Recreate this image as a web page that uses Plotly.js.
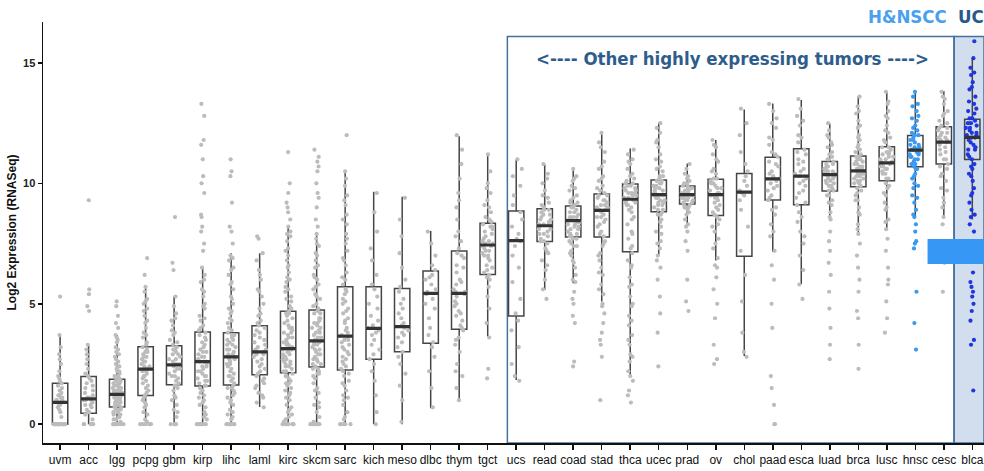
<!DOCTYPE html>
<html><head><meta charset="utf-8">
<script src="https://cdn.plot.ly/plotly-3.0.1.min.js"></script>
<style>html,body{margin:0;padding:0;background:#fff}#chart{width:984px;height:471px}</style>
</head><body><div id="chart"></div>
<script>
const categories = ["uvm","acc","lgg","pcpg","gbm","kirp","lihc","laml","kirc","skcm","sarc","kich","meso","dlbc","thym","tgct","ucs","read","coad","stad","thca","ucec","prad","ov","chol","paad","esca","luad","brca","lusc","hnsc","cesc","blca"];
const q1 = [0,0.46,0.71,1.19,1.64,1.59,1.63,2.05,2.14,2.38,2.25,2.70,3.01,3.36,3.94,6.22,4.49,7.59,7.77,7.77,7.16,8.82,9.14,8.67,6.97,9.31,9.11,9.68,9.86,10.11,10.69,10.80,10.99];
const medians = [0.91,1.05,1.24,2.29,2.46,2.60,2.80,3.00,3.14,3.46,3.66,3.98,4.05,5.43,5.43,7.44,7.62,8.24,8.45,8.88,9.34,9.53,9.53,9.53,9.64,10.19,10.30,10.36,10.52,10.85,11.38,11.71,11.91];
const q3 = [1.70,1.98,1.87,3.22,3.26,3.83,3.80,4.09,4.69,4.74,5.71,5.71,5.64,6.36,7.19,8.34,8.85,8.95,9.06,9.56,9.97,10.14,9.89,10.17,10.41,11.08,11.44,10.91,11.14,11.52,11.99,12.35,12.66];
const lowerFence = [0,0,0,0,0,0,0,0.71,0,0,0,0,0,0.66,1.0,3.64,1.84,5.57,5.85,5.1,2.0,7.0,8.2,6.8,2.83,7.16,5.82,8.48,7.93,8.13,8.61,8.61,8.5];
const upperFence = [3.7,3.29,3.7,5.7,5.3,6.54,7.1,7.1,8.2,7.9,10.48,9.65,9.44,8.02,11.96,11.17,10.97,10.79,10.59,12.11,11.45,12.53,10.83,11.8,13.07,13.32,13.46,12.49,13.62,13.8,13.76,13.84,15.2];

const pts_uvm = [0,0,0,0,0,0,0,0,0,0,0,0,0,0,0,0,0,0,0,0,0.3,0.5,0.6,0.7,0.8,0.8,0.9,0.9,0.9,1.0,1.0,1.0,1.1,1.1,1.2,1.2,1.3,1.4,1.5,1.6,1.7,1.8,1.9,2.0,2.2,2.5,2.7,2.9,3.2,3.7,5.3];
const pts_acc = [0,0,0,0,0,0.2,0.4,0.5,0.5,0.6,0.7,0.8,0.8,0.9,1.0,1.0,1.0,1.1,1.1,1.2,1.3,1.4,1.5,1.6,1.7,1.8,1.9,2.0,2.1,2.3,2.5,2.7,2.9,3.1,3.3,4.7,4.9,5.4,5.6,9.3];
const pts_lgg = [0,0,0,0,0,0,0.1,0.2,0.3,0.3,0.4,0.5,0.5,0.6,0.6,0.7,0.7,0.8,0.8,0.9,0.9,1.0,1.0,1.1,1.1,1.1,1.2,1.2,1.2,1.3,1.3,1.3,1.4,1.4,1.5,1.5,1.6,1.6,1.7,1.7,1.8,1.8,1.9,2.0,2.1,2.2,2.3,2.4,2.5,2.6,2.8,2.9,3.0,3.2,3.4,3.6,3.7,4.0,4.2,4.5,4.9,5.1,
  0,0,0.2,0.4,0.6,0.7,0.8,0.9,1.0,1.0,1.1,1.2,1.2,1.3,1.3,1.4,1.4,1.5,1.6,1.7,1.8,1.9,2.0,2.2,2.4,2.7,3.1,3.5];
const pts_pcpg = [0,0,0,0,0.2,0.4,0.5,0.7,0.9,1.0,1.1,1.2,1.3,1.5,1.6,1.8,1.9,2.0,2.1,2.2,2.3,2.3,2.4,2.5,2.6,2.7,2.8,2.9,3.0,3.1,3.2,3.4,3.6,3.8,4.0,4.3,4.5,4.8,5.0,5.2,5.5,5.7,6.2,6.9,
  0,0.1,0.8,1.4,1.7,2.0,2.2,2.4,2.6,2.8,3.0,3.3,3.7,4.2,4.7,5.1];
const pts_gbm = [0,0,0,0.3,0.6,0.8,1.0,1.2,1.4,1.5,1.6,1.7,1.9,2.0,2.1,2.2,2.3,2.4,2.5,2.5,2.6,2.7,2.8,2.9,3.0,3.1,3.2,3.3,3.5,3.7,3.9,4.1,4.3,4.6,4.9,5.3,6.4,6.7,8.6,
  0,0.5,1.1,1.6,1.8,2.0,2.3,2.5,2.7,2.9,3.1,3.4,3.8,4.4];
const pts_kirp = [0,0,0,0,0,0.2,0.4,0.5,0.7,0.8,1.0,1.1,1.2,1.4,1.5,1.6,1.7,1.8,1.9,2.0,2.1,2.2,2.3,2.4,2.5,2.6,2.6,2.7,2.8,2.9,3.0,3.1,3.3,3.4,3.6,3.8,3.9,4.1,4.3,4.5,4.8,5.0,5.3,5.6,5.9,6.2,6.5,7.2,7.5,8.0,8.2,8.6,8.7,9.6,10.0,10.3,11.0,11.6,11.8,12.8,13.3,
  0,0,0.3,0.9,1.3,1.6,1.8,2.0,2.2,2.4,2.6,2.8,3.0,3.2,3.5,3.7,4.0,4.4,4.9,5.5,6.0];
const pts_lihc = [0,0,0,0,0,0.2,0.3,0.5,0.6,0.8,1.0,1.1,1.3,1.4,1.5,1.6,1.7,1.9,2.0,2.1,2.3,2.4,2.5,2.6,2.7,2.8,2.8,2.9,3.0,3.1,3.2,3.3,3.4,3.5,3.6,3.7,3.8,4.0,4.2,4.4,4.6,4.8,5.0,5.3,5.6,5.9,6.2,6.5,6.8,7.0,7.5,8.0,8.2,9.2,10.3,10.5,11.0,
  0,0,0.4,0.9,1.2,1.5,1.8,2.0,2.2,2.5,2.7,2.9,3.1,3.3,3.5,3.7,3.9,4.3,4.7,5.2,5.8,6.4,6.9];
const pts_laml = [0.7,0.9,1.1,1.3,1.5,1.6,1.8,1.9,2.0,2.1,2.3,2.4,2.6,2.7,2.8,2.9,3.0,3.0,3.1,3.2,3.3,3.5,3.6,3.8,3.9,4.0,4.1,4.3,4.5,4.8,5.0,5.3,5.6,6.0,6.4,6.8,7.1,7.7,7.8,
  1.2,1.7,2.2,2.5,2.9,3.1,3.4,3.7,4.2,4.6,5.5,6.2];
const pts_kirc = [0,0,0,0,0,0.2,0.3,0.4,0.5,0.7,0.8,1.0,1.1,1.3,1.4,1.5,1.6,1.7,1.8,1.9,2.0,2.1,2.2,2.3,2.4,2.5,2.6,2.7,2.8,2.9,3.0,3.1,3.1,3.2,3.3,3.4,3.5,3.6,3.7,3.8,3.9,4.0,4.1,4.2,4.4,4.5,4.6,4.7,4.9,5.1,5.3,5.5,5.7,5.9,6.1,6.3,6.5,6.8,7.0,7.3,7.6,7.9,8.2,8.5,8.8,9.0,9.2,9.6,10.0,11.3,
  0,0,0.1,0.6,1.2,1.7,2.0,2.2,2.4,2.5,2.6,2.7,2.8,2.9,3.0,3.2,3.3,3.4,3.6,3.8,4.0,4.3,4.6,4.8,5.2,5.6,6.0,6.6,7.2,7.8,8.0];
const pts_skcm = [0,0,0,0,0.3,0.5,0.7,0.9,1.1,1.3,1.5,1.7,1.9,2.0,2.1,2.2,2.3,2.4,2.5,2.6,2.7,2.8,2.9,3.0,3.1,3.2,3.3,3.4,3.5,3.5,3.6,3.7,3.8,3.9,4.0,4.1,4.2,4.3,4.4,4.6,4.7,4.8,5.0,5.2,5.4,5.6,5.8,6.0,6.2,6.5,6.8,7.1,7.4,7.7,7.9,8.2,8.5,9.0,9.4,9.6,10.0,10.5,10.7,10.9,11.1,11.4,
  0,0,0.1,0.8,1.4,2.1,2.3,2.5,2.7,2.9,3.1,3.3,3.4,3.6,3.8,4.0,4.2,4.4,4.6,4.9,5.3,5.7,6.1,6.6,7.0,7.5];
const pts_sarc = [0,0,0,0,0.3,0.5,0.8,1.0,1.2,1.4,1.6,1.8,2.0,2.1,2.3,2.5,2.6,2.8,3.0,3.1,3.3,3.4,3.5,3.6,3.7,3.8,4.0,4.2,4.4,4.6,4.8,5.0,5.2,5.4,5.6,5.8,6.0,6.3,6.6,6.9,7.2,7.5,7.9,8.3,8.7,9.1,9.5,9.9,10.2,10.5,12.0,
  0,0.2,1.1,1.7,2.2,2.4,2.7,2.9,3.2,3.5,3.9,4.3,4.7,5.1,5.5,6.1,6.8,7.7,8.5,9.3];
const pts_kich = [0,0.5,1.2,1.8,2.2,2.5,2.7,2.9,3.1,3.3,3.5,3.7,3.8,3.9,4.0,4.1,4.3,4.5,4.8,5.0,5.3,5.6,5.8,6.2,6.8,7.3,8.0,8.8,9.6];
const pts_meso = [0.1,1.0,1.6,2.1,2.5,2.8,3.0,3.2,3.4,3.6,3.7,3.8,3.9,4.0,4.1,4.2,4.4,4.6,4.8,5.0,5.2,5.5,5.7,6.0,6.5,7.1,7.8,8.5,9.4];
const pts_dlbc = [0.7,1.5,2.2,2.8,3.2,3.4,3.7,4.0,4.4,4.8,5.0,5.2,5.4,5.5,5.6,5.8,6.0,6.1,6.2,6.4,6.6,7.0,7.5,8.0];
const pts_thym = [1.0,1.5,2.0,2.5,3.0,3.3,3.6,3.9,4.1,4.3,4.5,4.7,4.9,5.1,5.3,5.4,5.5,5.6,5.8,6.0,6.3,6.6,6.9,7.1,7.3,7.6,8.0,8.5,9.0,9.6,10.2,10.8,11.4,12.0,
  2.2,3.5,4.0,4.6,5.0,5.5,5.9,6.5,7.0,7.8,9.3];
const pts_tgct = [1.9,2.3,3.6,4.2,4.8,5.3,5.7,6.0,6.2,6.4,6.6,6.8,7.0,7.1,7.2,7.3,7.4,7.5,7.6,7.7,7.8,8.0,8.1,8.2,8.3,8.4,8.6,8.8,9.0,9.3,9.6,10.0,10.5,11.2,
  6.1,6.3,6.5,6.9,7.0,7.2,7.4,7.5,7.6,7.9,8.2,8.5,9.1,9.8];
const pts_ucs = [1.8,2.0,2.5,3.2,3.9,4.3,4.6,5.2,5.9,6.5,7.0,7.4,7.6,7.7,7.9,8.2,8.5,8.8,9.1,9.5,9.9,10.3,10.6,11.0];
const pts_read = [5.2,5.6,6.0,6.4,6.8,7.1,7.3,7.5,7.6,7.7,7.8,7.9,8.0,8.1,8.2,8.3,8.3,8.4,8.5,8.6,8.7,8.8,8.9,9.0,9.2,9.4,9.7,10.0,10.4,10.8,
  6.6,7.2,7.6,7.9,8.1,8.3,8.5,8.7,8.9,9.1,9.5,10.2];
const pts_coad = [2.4,2.6,4.2,4.5,5.0,5.5,5.9,6.2,6.5,6.8,7.0,7.2,7.4,7.5,7.6,7.7,7.8,7.9,8.0,8.1,8.2,8.3,8.4,8.4,8.5,8.6,8.7,8.8,8.9,9.0,9.1,9.2,9.3,9.5,9.7,9.9,10.1,10.3,10.6,
  5.2,6.0,6.7,7.1,7.4,7.7,7.8,7.9,8.1,8.2,8.3,8.5,8.6,8.6,8.8,9.0,9.2,9.4,9.8,10.2];
const pts_stad = [1.0,2.8,3.3,3.8,4.2,4.6,5.0,5.4,5.8,6.2,6.5,6.8,7.1,7.4,7.6,7.8,8.0,8.2,8.4,8.6,8.7,8.8,8.9,9.0,9.1,9.2,9.3,9.4,9.5,9.6,9.7,9.9,10.1,10.3,10.6,10.9,11.3,11.7,12.1,
  3.5,4.9,5.6,6.3,7.0,7.5,7.9,8.3,8.5,8.6,8.9,9.0,9.1,9.3,9.5,9.8,10.2,10.7,11.5];
const pts_thca = [0.9,1.4,1.8,2.2,2.6,2.9,3.3,3.7,4.1,4.5,4.9,5.3,5.7,6.1,6.5,6.8,7.1,7.4,7.7,8.0,8.3,8.6,8.8,9.0,9.1,9.2,9.3,9.4,9.5,9.6,9.7,9.8,9.9,10.0,10.1,10.2,10.4,10.6,10.8,11.0,11.2,11.4,
  1.2,2.0,2.8,3.5,4.3,5.0,5.8,6.6,7.3,7.9,8.5,8.9,9.1,9.2,9.3,9.4,9.5,9.6,9.6,9.7,9.8,9.9,10.0,10.3,10.9];
const pts_ucec = [2.4,3.8,4.6,5.3,6.0,6.5,7.0,7.3,7.6,7.9,8.2,8.5,8.7,8.8,8.9,9.0,9.1,9.2,9.3,9.4,9.5,9.5,9.6,9.7,9.8,9.9,10.0,10.1,10.2,10.3,10.5,10.7,10.9,11.2,11.5,11.8,12.1,12.5,
  6.8,7.5,8.0,8.4,8.7,8.9,9.1,9.2,9.3,9.4,9.5,9.6,9.7,9.8,9.9,10.0,10.1,10.3,10.6,11.0,11.7,12.3];
const pts_prad = [4.7,5.1,6.0,7.2,7.6,8.0,8.2,8.5,8.7,8.9,9.0,9.1,9.2,9.3,9.4,9.5,9.5,9.6,9.7,9.8,9.9,10.0,10.1,10.2,10.4,10.6,10.8,
  8.3,8.8,9.0,9.1,9.2,9.3,9.3,9.4,9.4,9.5,9.5,9.6,9.6,9.7,9.8,9.9,10.0,10.3];
const pts_ov = [2.5,2.7,3.3,4.4,5.0,5.6,6.1,6.5,6.9,7.3,7.7,8.0,8.3,8.5,8.7,8.9,9.1,9.3,9.4,9.5,9.6,9.7,9.8,9.9,10.0,10.1,10.2,10.4,10.6,10.9,11.2,11.5,11.8,
  6.6,7.5,8.2,8.6,8.8,9.0,9.2,9.4,9.5,9.6,9.8,10.0,10.2,10.5,11.0,11.6];
const pts_chol = [2.8,3.0,3.8,5.1,6.2,7.2,8.2,8.9,9.3,9.5,9.6,9.7,9.9,10.1,10.3,10.5,10.8,11.3,12.0,12.5,13.1];
const pts_paad = [0,0,0.8,1.5,2.0,4.0,5.0,6.0,6.6,7.2,7.8,8.3,8.7,9.0,9.3,9.5,9.7,9.9,10.1,10.2,10.3,10.5,10.7,10.9,11.1,11.3,11.6,11.9,12.3,12.7,13.0,13.3,
  8.0,8.9,9.4,9.8,10.0,10.2,10.4,10.8,11.2,11.8,12.5];
const pts_esca = [5.2,5.8,6.4,7.0,7.5,8.0,8.4,8.8,9.1,9.4,9.7,9.9,10.1,10.3,10.4,10.6,10.8,11.0,11.2,11.4,11.7,12.0,12.4,12.8,13.1,13.5,
  7.8,8.6,9.2,9.6,10.0,10.2,10.5,10.9,11.3,11.9,12.6];
const pts_luad = [2.7,3.3,4.0,4.8,5.5,6.2,6.7,7.2,7.6,8.0,8.5,8.8,9.1,9.3,9.5,9.7,9.8,9.9,10.0,10.1,10.2,10.3,10.4,10.4,10.5,10.6,10.7,10.8,10.9,11.0,11.1,11.3,11.5,11.7,11.9,12.2,12.5,
  8.6,9.2,9.5,9.7,9.9,10.0,10.1,10.2,10.3,10.3,10.4,10.5,10.5,10.6,10.7,10.8,11.0,11.2,11.6,12.0];
const pts_brca = [2.3,3.3,4.4,4.7,5.5,6.0,6.5,7.0,7.5,7.9,8.3,8.7,9.0,9.3,9.5,9.7,9.9,10.0,10.1,10.2,10.3,10.4,10.5,10.5,10.6,10.7,10.8,10.9,11.0,11.1,11.2,11.4,11.6,11.8,12.0,12.3,12.6,12.9,13.2,13.6,
  8.1,8.8,9.3,9.6,9.8,10.0,10.1,10.2,10.3,10.4,10.4,10.5,10.5,10.6,10.6,10.7,10.8,10.9,11.0,11.1,11.3,11.5,11.9,12.4,13.0];
const pts_lusc = [3.8,4.4,5.1,5.8,6.0,6.5,7.2,7.7,8.1,8.5,8.9,9.2,9.5,9.8,10.0,10.2,10.4,10.5,10.6,10.7,10.8,10.9,11.0,11.1,11.2,11.3,11.4,11.5,11.7,11.9,12.1,12.4,12.7,13.0,13.4,13.8,
  8.4,9.0,9.6,9.9,10.2,10.4,10.6,10.7,10.8,10.9,11.0,11.1,11.2,11.3,11.5,11.8,12.2,12.8,13.3];
const pts_hnsc = [3.1,4.2,5.5,7.3,7.5,7.6,8.0,8.3,8.6,8.9,9.2,9.5,9.8,10.0,10.2,10.4,10.6,10.7,10.8,10.9,11.0,11.1,11.2,11.3,11.4,11.4,11.5,11.6,11.7,11.8,11.9,12.0,12.1,12.2,12.4,12.6,12.8,13.0,13.3,13.6,13.8,
  8.7,9.4,9.9,10.3,10.6,10.8,11.0,11.1,11.2,11.3,11.4,11.5,11.6,11.8,12.0,12.3,12.7,13.2];
const pts_cesc = [5.5,6.7,8.3,8.6,9.0,9.4,9.8,10.1,10.4,10.6,10.8,11.0,11.2,11.4,11.6,11.7,11.8,11.9,12.0,12.1,12.2,12.3,12.4,12.6,12.8,13.0,13.3,13.6,13.8,
  9.2,9.7,10.3,10.7,11.0,11.3,11.5,11.7,11.8,11.9,12.1,12.3,12.5,12.9,13.5];
const pts_blca = [1.4,3.3,3.5,4.3,4.7,5.0,5.3,5.5,5.7,5.9,6.3,7.6,8.0,8.3,8.6,8.9,9.2,9.5,9.8,10.1,10.4,10.6,10.8,11.0,11.2,11.4,11.6,11.8,11.9,12.0,12.1,12.2,12.3,12.4,12.5,12.6,12.7,12.9,13.1,13.3,13.6,13.9,14.2,14.5,14.8,15.2,15.9,
  8.7,9.6,10.3,10.7,11.1,11.4,11.5,11.7,11.9,12.0,12.1,12.3,12.5,12.7,13.0,13.4,14.0,14.6];

const pointSets = [pts_uvm,pts_acc,pts_lgg,pts_pcpg,pts_gbm,pts_kirp,pts_lihc,pts_laml,pts_kirc,pts_skcm,pts_sarc,pts_kich,pts_meso,pts_dlbc,pts_thym,pts_tgct,pts_ucs,pts_read,pts_coad,pts_stad,pts_thca,pts_ucec,pts_prad,pts_ov,pts_chol,pts_paad,pts_esca,pts_luad,pts_brca,pts_lusc,pts_hnsc,pts_cesc,pts_blca];
const pointColors = {hnsc: "#3a99f0", blca: "#1f35e0"};
const grayColor = "#bcbcbc";

function pointTrace(cats, color) {
  const xs = [], ys = [];
  cats.forEach(c => {
    const vals = pointSets[categories.indexOf(c)];
    vals.forEach(v => { xs.push(c); ys.push(v); });
  });
  return {
    type: "box", x: xs, y: ys, boxpoints: "all", jitter: 0.85, pointpos: 0,
    fillcolor: "rgba(0,0,0,0)", line: {width: 0, color: "rgba(0,0,0,0)"},
    marker: {color: color, size: 4.2, opacity: 1, line: {width: 0, color: color}},
    hoverinfo: "skip", showlegend: false
  };
}

const grayCats = categories.filter(c => !(c in pointColors));
const traces = [
  {
    type: "box", x: categories, q1: q1, median: medians, q3: q3,
    lowerfence: lowerFence, upperfence: upperFence, boxpoints: false,
    fillcolor: "rgba(0,0,0,0)", line: {color: "#454545", width: 1.5}, whiskerwidth: 0,
    hoverinfo: "skip", showlegend: false
  },
  pointTrace(grayCats, grayColor),
  pointTrace(["hnsc"], pointColors.hnsc),
  pointTrace(["blca"], pointColors.blca),
  {
    type: "box", x: categories, q1: medians, median: medians, q3: medians,
    lowerfence: medians, upperfence: medians, boxpoints: false,
    fillcolor: "rgba(0,0,0,0)", line: {color: "#333333", width: 3.2}, whiskerwidth: 0,
    hoverinfo: "skip", showlegend: false
  }
];

const boxBlue = "#44719f";
const labelFont = "Liberation Sans Narrow, DejaVu Sans Condensed, Arial Narrow, sans-serif";
const layout = {
  width: 984, height: 471,
  margin: {l: 43, r: 0, t: 22, b: 28},
  paper_bgcolor: "#ffffff", plot_bgcolor: "#ffffff",
  showlegend: false, boxmode: "overlay", boxgap: 0.23,
  font: {family: "Arial, Liberation Sans, sans-serif", color: "#111"},
  xaxis: {
    type: "category", categoryorder: "array", categoryarray: categories,
    range: [-0.6, 32.41], showline: true, linecolor: "#111", linewidth: 1.5,
    ticks: "outside", ticklen: 5, tickwidth: 1.5, tickcolor: "#111",
    tickfont: {family: "Arial, Liberation Sans, sans-serif", size: 12, color: "#111"},
    showgrid: false, zeroline: false
  },
  yaxis: {
    range: [-0.78, 16.7], tickvals: [0, 5, 10, 15], ticktext: ["0", "5", "10", "15"],
    showline: true, linecolor: "#111", linewidth: 1.5,
    ticks: "outside", ticklen: 4, tickwidth: 1.5, tickcolor: "#111",
    tickfont: {family: "Arial, Liberation Sans, sans-serif", size: 11, color: "#222", weight: "bold"},
    showgrid: false, zeroline: false,
    title: {text: "Log2 Expression (RNASeq)", font: {family: "Arial, Liberation Sans, sans-serif", size: 12, color: "#111", weight: "bold"}, standoff: 4}
  },
  shapes: [
    {type: "rect", xref: "x", yref: "y", x0: 31.36, x1: 32.41, y0: -0.78, y1: 16.1,
     fillcolor: "#d2deed", line: {color: boxBlue, width: 1.5}, layer: "below"},
    {type: "rect", xref: "x", yref: "y", x0: 15.69, x1: 31.36, y0: -0.78, y1: 16.1,
     fillcolor: "rgba(0,0,0,0)", line: {color: boxBlue, width: 1.5}, layer: "below"},
    {type: "rect", xref: "x", yref: "y", x0: 30.43, x1: 32.41, y0: 6.65, y1: 7.69,
     fillcolor: "#3797f5", line: {width: 0}, layer: "above"}
  ],
  annotations: [
    {text: "&lt;---- Other highly expressing tumors ----&gt;", xref: "x", yref: "y", x: 23.59, y: 15.2,
     showarrow: false, xanchor: "center", yanchor: "middle",
     font: {family: labelFont, size: 18.5, color: "#2e5d8c", weight: "bold"}},
    {text: "H&amp;NSCC", xref: "x", yref: "paper", x: 29.73, y: 1.012,
     showarrow: false, xanchor: "center", yanchor: "middle",
     font: {family: labelFont, size: 18.5, color: "#4aa0ee", weight: "bold"}},
    {text: "UC", xref: "x", yref: "paper", x: 31.95, y: 1.012,
     showarrow: false, xanchor: "center", yanchor: "middle",
     font: {family: labelFont, size: 18.5, color: "#2a5a8a", weight: "bold"}}
  ]
};

Plotly.newPlot("chart", traces, layout, {displayModeBar: false, staticPlot: true});
</script>
</body></html>
